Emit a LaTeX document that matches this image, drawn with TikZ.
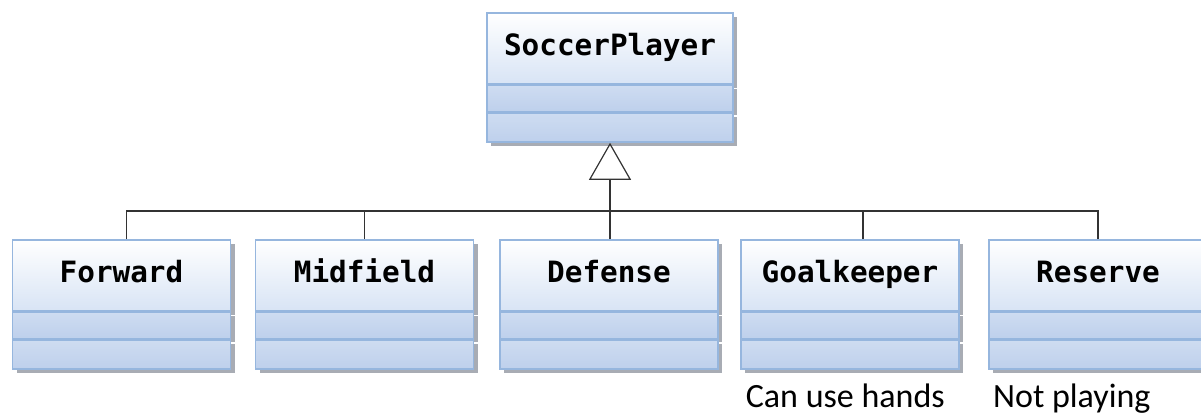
\documentclass[tikz,border=0pt]{standalone}
\usepackage{fontspec}
\setmonofont{DejaVu Sans Mono}
\newfontfamily\notefont{Carlito}
\usepackage{tikz}
\usetikzlibrary{arrows.meta,positioning,shadows}

\definecolor{umlline}{RGB}{150,182,222}
\definecolor{umltop}{RGB}{216,228,245}
\definecolor{umlpart}{RGB}{206,220,241}
\definecolor{umlpartdark}{RGB}{190,208,236}
\definecolor{umlshadow}{RGB}{168,172,180}

\begin{document}
\begin{tikzpicture}[x=0.75pt,y=-0.75pt,
  umlshade/.style={drop shadow={shadow xshift=3pt,shadow yshift=-3pt,fill=umlshadow,opacity=1}},
  classname/.style={umlshade,draw=umlline,line width=1.2pt,top color=white,bottom color=umltop,
    minimum width=163.5pt,minimum height=53.25pt,inner sep=0pt,text height=16pt,text depth=5.5pt,
    font=\ttfamily\bfseries\fontsize{22}{26}\selectfont},
  classpart/.style={umlshade,draw=umlline,line width=1.2pt,top color=umlpart,bottom color=umlpartdark,
    minimum width=163.5pt,inner sep=0pt},
  inherit/.style={draw=black!80,line width=0.9pt},
  note/.style={inner sep=0pt,font=\notefont\fontsize{25.5}{30}\selectfont}]
\useasboundingbox (0,0) rectangle (1201,413);

% superclass
\node[classname,minimum width=184.5pt,anchor=north] (player) at (610,12) {SoccerPlayer};
\node[classpart,minimum width=184.5pt,minimum height=19.5pt,anchor=north] (player-attr) at (player.south) {};
\node[classpart,minimum width=184.5pt,minimum height=21.75pt,anchor=north] (player-ops) at (player-attr.south) {};

\coordinate (bus) at (610,211);
\draw[inherit,-{Triangle[open,length=27.75pt,width=31.5pt]}] (bus) -- (player-ops.south);

% subclasses
\foreach \id/\x/\dx/\name in {forward/121.5/4pt/Forward,midfield/364.5/0pt/Midfield,
    defense/609/0.75pt/Defense,goalkeeper/850/9.75pt/Goalkeeper,reserve/1098/0pt/Reserve}{
  \node[classname,anchor=north] (\id) at (\x,239) {\name};
  \node[classpart,minimum height=19.5pt,anchor=north] (\id-attr) at (\id.south) {};
  \node[classpart,minimum height=21.75pt,anchor=north] (\id-ops) at (\id-attr.south) {};
  \draw[inherit] ([xshift=\dx]\id.north) |- (bus);
}

% notes
\node[note,anchor=base west] (handsnote) at ([shift={(4pt,-28.5pt)}]goalkeeper-ops.south west) {Can use hands};
\node[note,anchor=base west] (playnote) at ([shift={(3.5pt,-28.5pt)}]reserve-ops.south west) {Not playing};
\end{tikzpicture}
\end{document}
